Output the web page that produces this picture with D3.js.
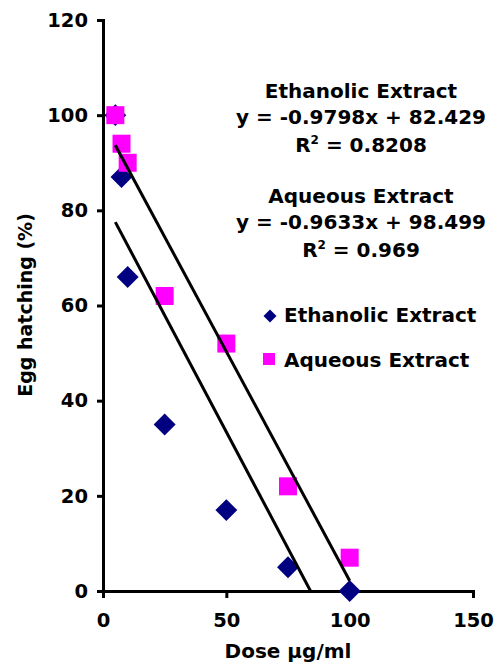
<!DOCTYPE html>
<html>
<head>
<meta charset="utf-8">
<style>
    body{ margin:0; background:#fff; }
    text{ font-family:"DejaVu Sans", Verdana, sans-serif; font-weight:bold; fill:#000; }
    .axis path, .axis line{ stroke:#000; stroke-width:3; }
    .trend{ stroke:#000; stroke-width:3; fill:none; }
</style>
</head>
<body>
<script src="https://d3js.org/d3.v7.min.js"></script>
<script>
var width = 501, height = 664;

// data
var doses = [5, 7.5, 10, 25, 50, 75, 100];
var ethanolic = [100, 87, 66, 35, 17, 5, 0];
var aqueous = [100, 94, 90, 62, 52, 22, 7];
var xTicks = [0, 50, 100, 150];
var yTicks = [0, 20, 40, 60, 80, 100, 120];
// trendline coefficients as printed on the chart
var ethFit = {slope: -0.9798, icpt: 82.429, r2: "0.8208"};
var aqFit = {slope: -0.9633, icpt: 98.499, r2: "0.969"};

var x = d3.scaleLinear().domain([0, 150]).range([103, 473]);
var y = d3.scaleLinear().domain([0, 120]).range([591, 20]);

var svg = d3.select("body").append("svg")
    .attr("width", width)
    .attr("height", height);

svg.append("g").attr("class", "axis")
    .attr("transform", "translate(0," + y(0) + ")")
    .call(d3.axisBottom(x).tickValues(xTicks).tickSize(7).tickSizeOuter(0).tickPadding(15))
    .selectAll("text").style("font-size", "19.5px").attr("dy", "0.71em");

svg.append("g").attr("class", "axis")
    .attr("transform", "translate(" + x(0) + ",0)")
    .call(d3.axisLeft(y).tickValues(yTicks).tickSize(6).tickSizeOuter(0).tickPadding(9))
    .selectAll("text").style("font-size", "19.5px");

svg.selectAll(".axis .domain").attr("stroke-linecap", "square");

// markers
svg.selectAll(".eth").data(doses).enter().append("path")
    .attr("class", "eth")
    .attr("transform", function(d, i){ return "translate(" + x(d) + "," + y(ethanolic[i]) + ") rotate(45)"; })
    .attr("d", d3.symbol().type(d3.symbolSquare).size(240))
    .attr("fill", "#000080");

svg.selectAll(".aq").data(doses).enter().append("rect")
    .attr("class", "aq")
    .attr("x", function(d){ return x(d) - 9; })
    .attr("y", function(d, i){ return y(aqueous[i]) - 9; })
    .attr("width", 18).attr("height", 18)
    .attr("fill", "#ff00ff");

// trendlines over the dose range, cut at y = 0
function trend(fit){
    var x0 = d3.min(doses), x1 = d3.max(doses);
    var xz = -fit.icpt / fit.slope;
    if (xz < x1) x1 = xz;
    return [[x0, fit.slope * x0 + fit.icpt], [x1, Math.max(0, fit.slope * x1 + fit.icpt)]];
}
var line = d3.line().x(function(d){ return x(d[0]); }).y(function(d){ return y(d[1]); });
[ethFit, aqFit].forEach(function(f){
    svg.append("path").attr("class", "trend").attr("d", line(trend(f)));
});

// equations
function eqBlock(name, fit, top){
    var g = svg.append("g").attr("text-anchor", "middle").style("font-size", "20px");
    g.append("text").attr("x", 361).attr("y", top).text(name);
    g.append("text").attr("x", 361).attr("y", top + 26)
        .text("y = " + fit.slope + "x + " + fit.icpt);
    var r = g.append("text").attr("x", 361).attr("y", top + 54);
    r.append("tspan").text("R");
    r.append("tspan").attr("dy", -8).style("font-size", "12px").text("2");
    r.append("tspan").attr("dy", 8).text(" = " + fit.r2);
}
eqBlock("Ethanolic Extract", ethFit, 98);
eqBlock("Aqueous Extract", aqFit, 203);

// legend
svg.append("path")
    .attr("transform", "translate(270,316) rotate(45)")
    .attr("d", d3.symbol().type(d3.symbolSquare).size(85))
    .attr("fill", "#000080");
svg.append("rect").attr("x", 263).attr("y", 353).attr("width", 12).attr("height", 12).attr("fill", "#ff00ff");
svg.append("text").attr("x", 284).attr("y", 322).style("font-size", "20px").text("Ethanolic Extract");
svg.append("text").attr("x", 284).attr("y", 367).style("font-size", "20px").text("Aqueous Extract");

// axis titles
svg.append("text").attr("x", 288).attr("y", 658).attr("text-anchor", "middle")
    .style("font-size", "20px").text("Dose µg/ml");
svg.append("text").attr("transform", "translate(32,305) rotate(-90)").attr("text-anchor", "middle")
    .style("font-size", "19px").text("Egg hatching (%)");
</script>
</body>
</html>
